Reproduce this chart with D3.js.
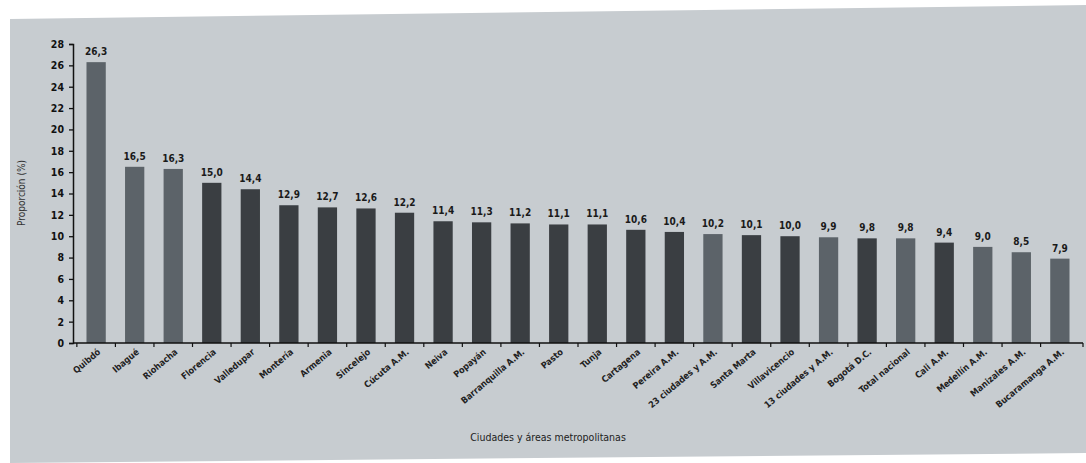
<!DOCTYPE html>
<html><head><meta charset="utf-8">
<script src="https://cdn.jsdelivr.net/npm/d3@7"></script>
<style>html,body{margin:0;padding:0;background:#ffffff;}svg{display:block;}</style>
</head><body>
<svg id="c" width="1086" height="463"></svg>
<script>
const ciudades = ["Quibdó","Ibagué","Riohacha","Florencia","Valledupar","Montería","Armenia","Sincelejo","Cúcuta A.M.","Neiva","Popayán","Barranquilla A.M.","Pasto","Tunja","Cartagena","Pereira A.M.","23 ciudades y A.M.","Santa Marta","Villavicencio","13 ciudades y A.M.","Bogotá D.C.","Total nacional","Cali A.M.","Medellín A.M.","Manizales A.M.","Bucaramanga A.M."];
const proporcion = [26.3,16.5,16.3,15.0,14.4,12.9,12.7,12.6,12.2,11.4,11.3,11.2,11.1,11.1,10.6,10.4,10.2,10.1,10.0,9.9,9.8,9.8,9.4,9.0,8.5,7.9];
const grupo = ["a","a","a","b","b","b","b","b","b","b","b","b","b","b","b","b","a","b","b","a","b","a","b","a","a","a"];
const yTicks = [0,2,4,6,8,10,12,14,16,18,20,22,24,26,28];

const svg = d3.select("#c");
const font = "'DejaVu Sans Condensed','DejaVu Sans',sans-serif";

// paper background
svg.append("polygon")
  .attr("points", [[10,19],[1086,5],[1086,453],[10,463]].map(p=>p.join(",")).join(" "))
  .attr("fill", "#c7ccd0");

const x = d3.scaleBand().domain(ciudades).range([73, 1083]).paddingInner(0.5).paddingOuter(0.35);
const y = d3.scaleLinear().domain([0,28]).range([343, 44]);
const color = d3.scaleOrdinal().domain(["a","b"]).range(["#5c6369","#3a3e42"]);

const data = ciudades.map((c,i)=>({c, v:proporcion[i], g:grupo[i]}));

svg.append("g").selectAll("rect").data(data).join("rect")
  .attr("x", d=>x(d.c)).attr("width", x.bandwidth())
  .attr("y", d=>y(d.v)).attr("height", d=>y(0)-y(d.v))
  .attr("fill", d=>color(d.g));

// value labels
svg.append("g").selectAll("text").data(data).join("text")
  .attr("x", d=>x(d.c)+x.bandwidth()/2)
  .attr("y", d=>y(d.v)-7)
  .attr("text-anchor","middle")
  .attr("font-family",font)
  .attr("font-weight","bold").attr("font-size","10px").attr("fill","#1a1a1a")
  .text(d=>d3.format(".1f")(d.v).replace(".",","));

// y axis
const yAxis = svg.append("g").attr("transform","translate(73,0)")
  .call(d3.axisLeft(y).tickValues(yTicks).tickSize(4).tickPadding(5));
yAxis.select(".domain").attr("stroke","#111").attr("stroke-width",1.5);
yAxis.selectAll(".tick line").attr("stroke","#111").attr("stroke-width",1.3);
yAxis.selectAll("text").attr("font-family",font)
  .attr("font-weight","bold").attr("font-size","10.5px").attr("fill","#111");

// x axis baseline with ticks between bars
const xg = svg.append("g");
xg.append("line").attr("x1",73).attr("x2",1083).attr("y1",343).attr("y2",343)
  .attr("stroke","#111").attr("stroke-width",1.5);
const step = x.step();
const bounds = ciudades.map(c=>x(c) - (step - x.bandwidth())/2);
bounds.push(1083);
xg.selectAll("line.tk").data(bounds).join("line").attr("class","tk")
  .attr("x1",d=>d).attr("x2",d=>d).attr("y1",343).attr("y2",347)
  .attr("stroke","#111").attr("stroke-width",1.2);

// category labels
svg.append("g").selectAll("text").data(data).join("text")
  .attr("transform", d=>`translate(${x(d.c)+x.bandwidth()/2+5},${353}) rotate(-40)`)
  .attr("text-anchor","end")
  .attr("font-family",font)
  .attr("font-weight","bold").attr("font-size","9px").attr("fill","#222")
  .text(d=>d.c);

// axis titles
svg.append("text").attr("transform","translate(25,193) rotate(-90)")
  .attr("text-anchor","middle")
  .attr("font-family",font)
  .attr("font-size","10px").attr("fill","#333").text("Proporción (%)");
svg.append("text").attr("x",548).attr("y",441)
  .attr("text-anchor","middle")
  .attr("font-family",font)
  .attr("font-size","10.5px").attr("fill","#222").text("Ciudades y áreas metropolitanas");
</script>
</body></html>
